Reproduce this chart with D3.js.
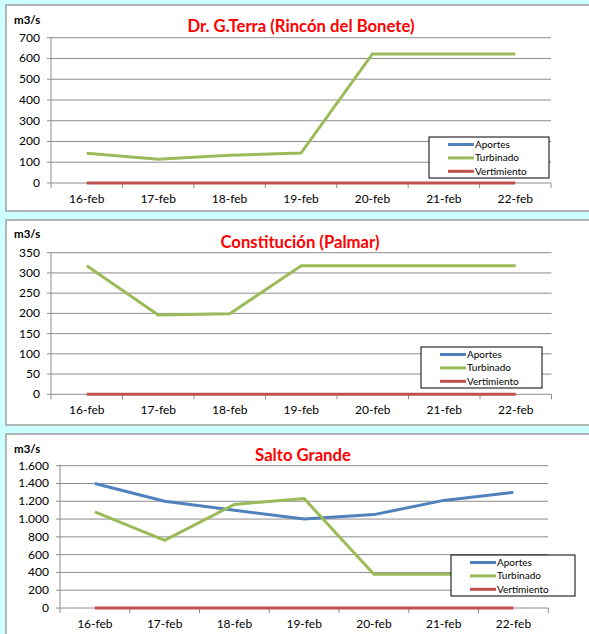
<!DOCTYPE html>
<html>
<head>
<meta charset="utf-8">
<script src="https://cdn.jsdelivr.net/npm/d3@7"></script>
<style>
  body { margin: 0; background: #ccffff; }
  svg { display: block; font-family: Lato, "Open Sans", sans-serif; }
</style>
</head>
<body>
<svg id="chart"></svg>
<script>
const width = 589;
const height = 634;

const dates = ["16-feb", "17-feb", "18-feb", "19-feb", "20-feb", "21-feb", "22-feb"];
const seriesNames = ["Aportes", "Turbinado", "Vertimiento"];
const seriesColors = ["#4f81bd", "#9bbb59", "#c0504d"];

// Dr. G.Terra
const terraAportes = [null, null, null, null, null, null, null];
const terraTurbinado = [143, 115, 134, 144, 622, 622, 622];
const terraVertimiento = [0, 0, 0, 0, 0, 0, 0];
const terraTicks = [0, 100, 200, 300, 400, 500, 600, 700];

// Constitución
const palmarAportes = [null, null, null, null, null, null, null];
const palmarTurbinado = [318, 196, 199, 318, 318, 318, 318];
const palmarVertimiento = [0, 0, 0, 0, 0, 0, 0];
const palmarTicks = [0, 50, 100, 150, 200, 250, 300, 350];

// Salto Grande
const saltoAportes = [1400, 1200, 1100, 1000, 1050, 1210, 1300];
const saltoTurbinado = [1080, 760, 1165, 1230, 380, 380, 380];
const saltoVertimiento = [0, 0, 0, 0, 0, 0, 0];
const saltoTicks = [0, 200, 400, 600, 800, 1000, 1200, 1400, 1600];

const svg = d3.select("#chart")
    .attr("width", width)
    .attr("height", height);

const fmt = d3.formatLocale({ decimal: ",", thousands: ".", grouping: [3], currency: ["", ""] }).format(",d");

function drawPanel(p) {
    const g = svg.append("g");

    g.append("rect")
        .attr("x", p.box[0]).attr("y", p.box[1])
        .attr("width", p.box[2]).attr("height", p.box[3])
        .attr("fill", "#fff")
        .attr("stroke", "#a0a0a0")
        .attr("stroke-width", 1.5);

    const x = d3.scaleBand().domain(dates).range([p.left, p.right]);
    const y = d3.scaleLinear().domain([0, d3.max(p.ticks)]).range([p.bottom, p.top]);

    // grid
    g.append("g")
        .selectAll("line")
        .data(p.ticks)
        .join("line")
        .attr("x1", p.left - 4).attr("x2", p.right)
        .attr("y1", d => y(d)).attr("y2", d => y(d))
        .attr("stroke", "#8c8c8c")
        .attr("stroke-width", 1);

    // y axis line
    g.append("line")
        .attr("x1", p.left).attr("x2", p.left)
        .attr("y1", p.top).attr("y2", p.bottom)
        .attr("stroke", "#8c8c8c");

    // x ticks at band edges
    const edges = dates.map(d => x(d)).concat([p.right]);
    g.append("g")
        .selectAll("line")
        .data(edges)
        .join("line")
        .attr("x1", d => d).attr("x2", d => d)
        .attr("y1", p.bottom).attr("y2", p.bottom + 5)
        .attr("stroke", "#8c8c8c");

    g.append("g")
        .selectAll("text")
        .data(p.ticks)
        .join("text")
        .attr("x", p.left - 11)
        .attr("y", d => y(d) + 4)
        .attr("text-anchor", "end")
        .attr("font-size", 12)
        .attr("fill", "#000")
        .text(d => fmt(d));

    g.append("g")
        .selectAll("text")
        .data(dates)
        .join("text")
        .attr("x", d => x(d) + x.bandwidth() / 2)
        .attr("y", p.bottom + 20)
        .attr("text-anchor", "middle")
        .attr("font-size", 12)
        .text(d => d);

    const line = d3.line()
        .defined(d => d.v != null)
        .x(d => x(d.date) + x.bandwidth() / 2)
        .y(d => y(d.v));

    p.series.forEach((vals, i) => {
        g.append("path")
            .datum(vals.map((v, j) => ({ date: dates[j], v: v })))
            .attr("fill", "none")
            .attr("stroke", seriesColors[i])
            .attr("stroke-width", 3)
            .attr("d", line);
    });

    g.append("text")
        .attr("x", p.titleX).attr("y", p.titleY)
        .attr("text-anchor", "middle")
        .attr("font-size", 16.7)
        .attr("font-weight", "bold")
        .attr("fill", "#ff0000")
        .text(p.title);

    g.append("text")
        .attr("x", 14).attr("y", p.unitY)
        .attr("font-size", 11.5)
        .attr("font-weight", "bold")
        .text("m3/s");

    // legend
    const lg = g.append("g");
    lg.append("rect")
        .attr("x", p.legend[0]).attr("y", p.legend[1])
        .attr("width", p.legend[2]).attr("height", 41)
        .attr("fill", "#fff")
        .attr("stroke", "#000")
        .attr("stroke-width", 1);
    seriesNames.forEach((name, i) => {
        const yy = p.legend[1] + 7.5 + i * 13.4;
        const lx = p.legend[0] + 19;
        lg.append("line")
            .attr("x1", lx).attr("x2", lx + 26)
            .attr("y1", yy).attr("y2", yy)
            .attr("stroke", seriesColors[i])
            .attr("stroke-width", 3);
        lg.append("text")
            .attr("x", lx + 27).attr("y", yy + 3.5)
            .attr("font-size", 10)
            .text(name);
    });
}

drawPanel({
    box: [6, 5, 600, 206],
    left: 51, right: 551, top: 37.7, bottom: 183,
    ticks: terraTicks,
    series: [terraAportes, terraTurbinado, terraVertimiento],
    title: "Dr. G.Terra (Rincón del Bonete)", titleX: 301, titleY: 32,
    unitY: 24,
    legend: [429, 137, 120]
});

drawPanel({
    box: [6, 220, 600, 205],
    left: 51, right: 551.5, top: 252.7, bottom: 394.3,
    ticks: palmarTicks,
    series: [palmarAportes, palmarTurbinado, palmarVertimiento],
    title: "Constitución (Palmar)", titleX: 300, titleY: 248,
    unitY: 238,
    legend: [421, 347, 121]
});

drawPanel({
    box: [6, 434, 600, 210],
    left: 60, right: 548.3, top: 465.7, bottom: 608,
    ticks: saltoTicks,
    series: [saltoAportes, saltoTurbinado, saltoVertimiento],
    title: "Salto Grande", titleX: 303, titleY: 461,
    unitY: 453,
    legend: [451, 555, 124]
});
</script>
</body>
</html>
